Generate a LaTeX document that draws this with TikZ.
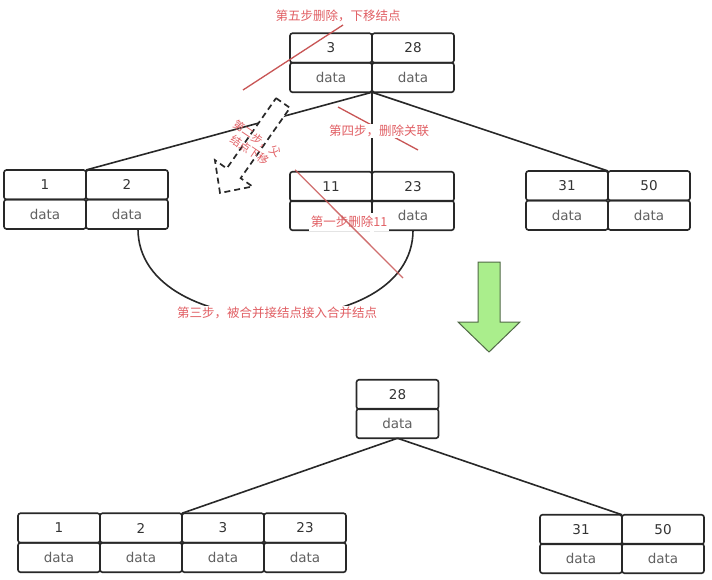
\documentclass[tikz,border=0pt]{standalone}
\usepackage{fontspec}
\setmainfont{DejaVu Sans}
\newfontfamily\cjk{Noto Sans CJK SC}
\usetikzlibrary{calc}
\definecolor{ln}{RGB}{40,40,40}
\definecolor{redl}{RGB}{200,85,85}
\definecolor{redt}{RGB}{225,95,100}
\definecolor{grn}{RGB}{170,238,140}
\definecolor{grnd}{RGB}{80,105,70}
\tikzset{
  cell/.style={draw=ln, line width=1.6pt, rounded corners=2.5pt, minimum width=82pt,
    minimum height=29.5pt, inner sep=0pt, outer sep=0pt,
    font=\fontsize{13.5}{14}\selectfont, text=black!80},
  datacell/.style={cell, text=black!62},
  redlab/.style={font=\cjk\fontsize{12.5}{13}\selectfont, text=redt, fill=white, inner sep=1.5pt},
  conn/.style={draw=ln, line width=1.6pt},
  redline/.style={draw=redl, line width=1.3pt},
}
\begin{document}
\begin{tikzpicture}[x=1pt,y=-1pt]
\useasboundingbox (0,0) rectangle (712,580);
\fill[white] (0,0) rectangle (712,580);

% ---- top tree nodes
\node[cell] (rk1) at (331,48) {3};
\node[cell] (rk2) at (413,48) {28};
\node[datacell] (rd1) at (331,77.5) {data};
\node[datacell] (rd2) at (413,77.5) {data};

\node[cell] (lk1) at (45,184.75) {1};
\node[cell] (lk2) at (127,184.75) {2};
\node[datacell] (ld1) at (45,214.25) {data};
\node[datacell] (ld2) at (127,214.25) {data};

\node[cell] (mk1) at (331,186.5) {11};
\node[cell] (mk2) at (413,186.5) {23};
\node[datacell] (md1) at (331,215.5) {};
\node[datacell] (md2) at (413,215.5) {data};

\node[cell] (qk1) at (567,185.75) {31};
\node[cell] (qk2) at (649,185.75) {50};
\node[datacell] (qd1) at (567,215.25) {data};
\node[datacell] (qd2) at (649,215.25) {data};

% ---- top connectors
\draw[conn] (rd1.south east) -- (lk1.north east);
\draw[conn] (rd1.south east) -- (mk1.north east);
\draw[conn] (rd1.south east) -- (qk1.north east);
\draw[conn] ([xshift=11pt]ld2.south) .. controls ([xshift=11pt,yshift=-116pt]ld2.south) and ([yshift=-116pt]md2.south) .. (md2.south);

% ---- dashed arrow (step 2)
\draw[fill=white, draw=ln, line width=1.7pt, dash pattern=on 6pt off 4pt]
  (276.05,98.13) -- (289.95,107.87) -- (240.65,178.17) -- (252.5,186.5) -- (220,193)
  -- (214.9,160.1) -- (226.75,168.43) -- cycle;
\node[font=\cjk\fontsize{11}{14}\selectfont, text=redt, rotate=-34, align=center, inner sep=0pt]
  (s2) at (253.5,144.5) {第二步，父\\结点下移};

% ---- red strike lines and labels
\draw[redline] (243,90) -- (343,25);
\node[redlab] (s5) at (338,16) {第五步删除，下移结点};

\draw[redline] (338,107) -- (418,150);
\node[redlab] (s4) at (379,131) {第四步，删除关联};

\node[redlab, inner ysep=3pt] (s1) at (349,222) {第一步删除11};
\draw[redline, opacity=0.85] (mk1.north west) ++(5,-2) -- (403,278);

\node[redlab] (s3) at (277,313) {第三步，被合并接结点接入合并结点};

% ---- green arrow
\draw[fill=grn, draw=grnd, line width=1pt, line join=miter]
  (478,262) -- (500,262) -- (500,322) -- (520,322) -- (489,352) -- (458,322) -- (478,322) -- cycle;

% ---- bottom tree
\node[cell] (bk) at (397.5,394.5) {28};
\node[datacell] (bd) at (397.5,423.5) {data};

\node[cell] (ck1) at (59,528) {1};
\node[cell] (ck2) at (141,528) {2};
\node[cell] (ck3) at (223,528) {3};
\node[cell] (ck4) at (305,528) {23};
\node[datacell] (cd1) at (59,557.5) {data};
\node[datacell] (cd2) at (141,557.5) {data};
\node[datacell] (cd3) at (223,557.5) {data};
\node[datacell] (cd4) at (305,557.5) {data};

\node[cell] (ek1) at (581,529.5) {31};
\node[cell] (ek2) at (663,529.5) {50};
\node[datacell] (ed1) at (581,558.5) {data};
\node[datacell] (ed2) at (663,558.5) {data};

\draw[conn] (bd.south) -- (ck2.north east);
\draw[conn] (bd.south) -- (ek1.north east);
\end{tikzpicture}
\end{document}
